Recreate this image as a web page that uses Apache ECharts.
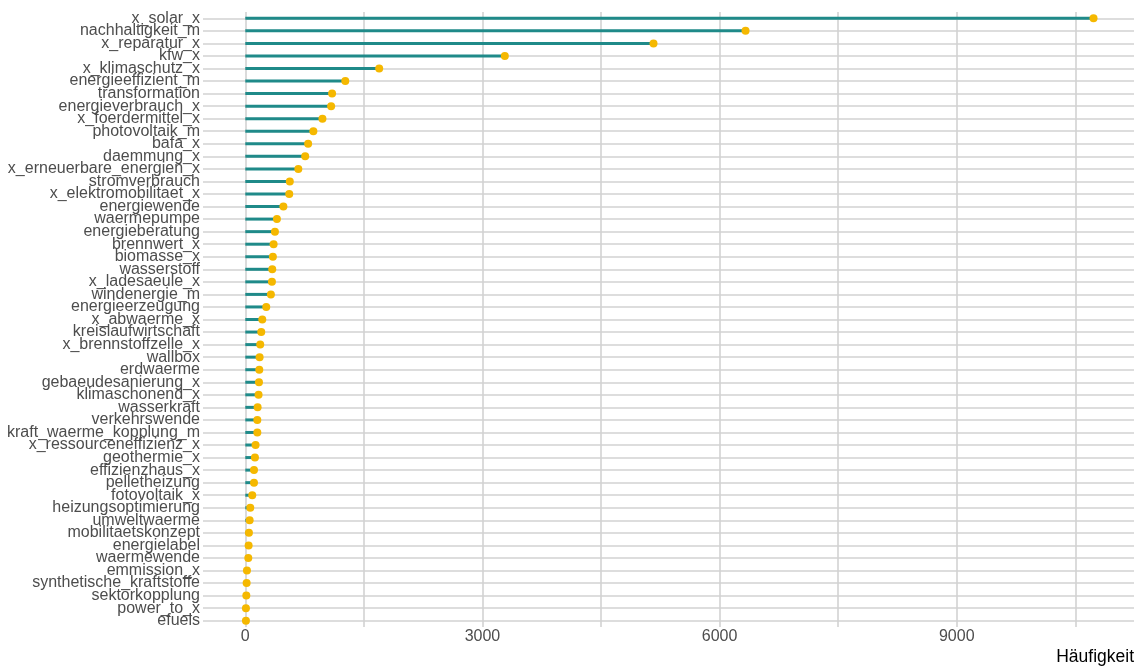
<!DOCTYPE html>
<html>
<head>
<meta charset="utf-8">
<script src="https://cdn.jsdelivr.net/npm/echarts@6/dist/echarts.min.js"></script>
<style>
html,body{margin:0;padding:0;background:#fff;}
#chart{width:1137px;height:666px;}
</style>
</head>
<body>
<div id="chart"></div>
<script>
const categories = ["x_solar_x","nachhaltigkeit_m","x_reparatur_x","kfw_x","x_klimaschutz_x","energieeffizient_m","transformation","energieverbrauch_x","x_foerdermittel_x","photovoltaik_m","bafa_x","daemmung_x","x_erneuerbare_energien_x","stromverbrauch","x_elektromobilitaet_x","energiewende","waermepumpe","energieberatung","brennwert_x","biomasse_x","wasserstoff","x_ladesaeule_x","windenergie_m","energieerzeugung","x_abwaerme_x","kreislaufwirtschaft","x_brennstoffzelle_x","wallbox","erdwaerme","gebaeudesanierung_x","klimaschonend_x","wasserkraft","verkehrswende","kraft_waerme_kopplung_m","x_ressourceneffizienz_x","geothermie_x","effizienzhaus_x","pelletheizung","fotovoltaik_x","heizungsoptimierung","umweltwaerme","mobilitaetskonzept","energielabel","waermewende","emmission_x","synthetische_kraftstoffe","sektorkopplung","power_to_x","efuels"];
const counts = [10730,6328,5164,3283,1694,1265,1098,1086,976,861,795,758,671,563,556,482,400,375,358,349,341,337,324,265,215,202,189,181,177,173,168,156,152,152,130,122,110,110,88,63,55,46,42,38,21,17,13,8,8];
const xLabelTicks = [0,3000,6000,9000];
const xGridTicks = [0,1500,3000,4500,6000,7500,9000,10500];
const axisTitle = "Häufigkeit";

const chart = echarts.init(document.getElementById('chart'), null, {renderer:'canvas'});
const font = "Liberation Sans, Arial, sans-serif";
chart.setOption({
  animation:false,
  grid:{left:203, right:1, top:12, bottom:38, containLabel:false},
  xAxis:{
    type:'value', min:-535, max:11242,
    axisLine:{show:false},
    axisTick:{show:false, customValues:xGridTicks},
    splitLine:{show:true, lineStyle:{color:'#d2d2d2', width:1.6}},
    axisLabel:{customValues:xLabelTicks, color:'#4d4d4d', fontSize:16, fontFamily:font, margin:2,
      formatter:(v)=>String(v)},
    name:axisTitle, nameLocation:'end', nameGap:0,
    nameTextStyle:{color:'#000', fontSize:17.5, fontFamily:font, align:'right', verticalAlign:'top', padding:[21,0,0,0]}
  },
  yAxis:{
    type:'category', data:categories, inverse:true,
    axisLine:{show:false},
    axisTick:{show:false, alignWithLabel:true},
    splitLine:{show:true, alignWithLabel:true, interval:0, lineStyle:{color:'#d2d2d2', width:1.6}},
    axisLabel:{interval:0, color:'#4d4d4d', fontSize:16, fontFamily:font, margin:3, lineHeight:12}
  },
  series:[
    {type:'bar', data:counts, barWidth:3, itemStyle:{color:'#1f8a89'}, z:2, silent:true},
    {type:'scatter', data:counts.map((v,i)=>[v,i]), symbolSize:8, itemStyle:{color:'#f5b800', opacity:1}, z:3, silent:true}
  ]
});
</script>
</body>
</html>
